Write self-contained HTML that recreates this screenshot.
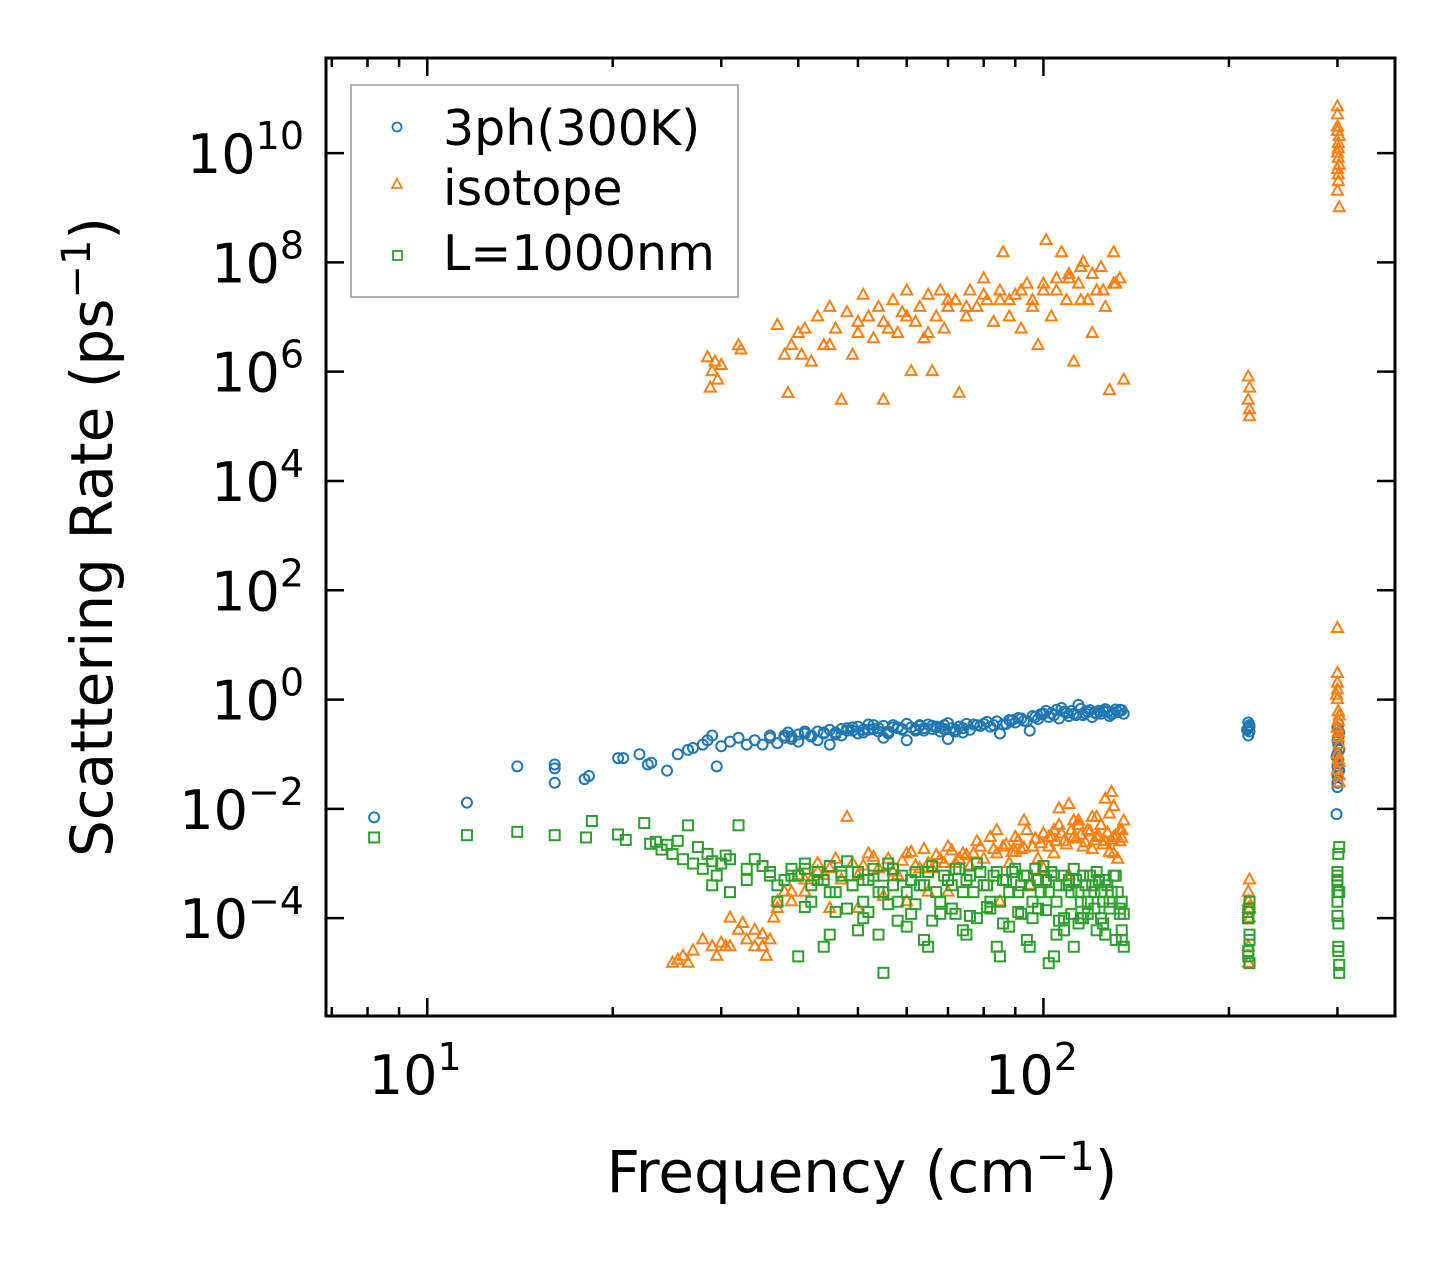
<!DOCTYPE html>
<html><head><meta charset="utf-8"><style>
body{margin:0;background:#fff}
svg text{font-family:"DejaVu Sans","Liberation Sans",sans-serif}
</style></head><body>
<svg id="chart" width="1455" height="1265" xmlns="http://www.w3.org/2000/svg">
<rect width="1455" height="1265" fill="#fff"/>
<g id="marks"></g>
<g id="axes"></g>
<g>
<rect x="351" y="85" width="387" height="212" fill="#fff" fill-opacity="0.8" stroke="#999" stroke-width="1.5"/>
<circle cx="397" cy="127" r="4.5" fill="none" stroke="#1f77b4" stroke-width="1.8"/>
<text x="443" y="145" font-size="49">3ph(300K)</text>
<path d="M397,179 L402,188 L392,188 Z" fill="none" stroke="#ff7f0e" stroke-width="1.8"/>
<text x="443" y="205" font-size="49">isotope</text>
<rect x="393" y="251" width="9" height="9" fill="none" stroke="#2ca02c" stroke-width="1.8"/>
<text x="443" y="270" font-size="49">L=1000nm</text>
</g>
<text x="862" y="1192" font-size="58" text-anchor="middle">Frequency (cm<tspan dy="-22" font-size="40">−1</tspan><tspan dy="22">)</tspan></text>
<text transform="translate(112,537) rotate(-90)" font-size="58" text-anchor="middle">Scattering Rate (ps<tspan dy="-22" font-size="40">−1</tspan><tspan dy="22">)</tspan></text>
</svg>
<script>
// 3ph(300K)
const phFreq=[8.2,11.6,14,16.1,16.1,16.1,18,18.3,20.4,20.8,22.1,22.8,23.1,24.5,25.5,26.5,27,28,28.5,29,29.5,30,31,32,33,34,35,36,37,38,38.5,39,40,41,42,43,44,45,46,47,48,49,50,51,52,53,54,55,56,57,58,59,60,61,62,63,64,65,66,67,68,69,70,71,72,73,74,75,76,78,80,82,84,86,88,90,92,94,96,98,100,102,104,106,108,110,112,114,116,118,120,122,125,128,130,133,135,60,70,85,95,45,55,215,215,215,216,216,300,300,300,300,300,300,301,301,302,302,299,
39,41,43,47,49,51,53,57,59,63,67,69,73,77,79,81,83,87,89,91,93,97,99,101,103,105,107,109,111,113,115,117,119,121,123,124,126,127,129,131,132,134,36,38,40,42,44,46,48,50,52,54,56,58,62,64,66,68,72,74,216,214,300,301,302,299,300,301];
const phRate=[7e-3,1.3e-2,6e-2,6.5e-2,5.5e-2,3e-2,3.5e-2,4e-2,8.5e-2,8.5e-2,1e-1,6.5e-2,7e-2,5e-2,1e-1,1.2e-1,1.3e-1,1.5e-1,1.8e-1,2.2e-1,6e-2,1.4e-1,1.7e-1,2e-1,1.5e-1,1.8e-1,1.5e-1,2.2e-1,1.6e-1,2e-1,2.5e-1,1.9e-1,2.3e-1,2.6e-1,2.2e-1,1.8e-1,2.4e-1,2.8e-1,2.5e-1,2.2e-1,3e-1,2.7e-1,3.2e-1,2.5e-1,3.5e-1,2.9e-1,3e-1,3.3e-1,2.6e-1,3.4e-1,3e-1,2.8e-1,3.6e-1,3.1e-1,2.7e-1,3.3e-1,3e-1,3.5e-1,2.9e-1,3.2e-1,2.6e-1,3.4e-1,3.7e-1,3e-1,2.8e-1,3.2e-1,2.5e-1,3.6e-1,2.8e-1,3.4e-1,3.6e-1,3.2e-1,4e-1,3.5e-1,4.2e-1,3.8e-1,4.5e-1,4e-1,5e-1,4.4e-1,5.5e-1,4.8e-1,5.2e-1,4.5e-1,6e-1,5e-1,5.5e-1,8e-1,5.2e-1,6e-1,4.8e-1,5.5e-1,6.2e-1,5e-1,5.8e-1,6.5e-1,5.5e-1,1.8e-1,1.9e-1,2.4e-1,2.7e-1,1.5e-1,2e-1,2.2e-1,3e-1,3.8e-1,2.6e-1,3.4e-1,3e-1,1.8e-1,1e-1,6e-2,4e-2,2.5e-2,2e-1,8e-2,1.2e-1,5e-2,8e-3,
2.1e-1,2.4e-1,2.6e-1,2.9e-1,3.1e-1,2.8e-1,3.4e-1,3.1e-1,2.9e-1,3.4e-1,3.1e-1,2.9e-1,3.2e-1,3.5e-1,3.3e-1,3.9e-1,3.4e-1,3.6e-1,4.2e-1,4.6e-1,4.1e-1,4.8e-1,5.4e-1,6.2e-1,5.6e-1,6.5e-1,7e-1,5.7e-1,6.2e-1,5.2e-1,6.8e-1,5.6e-1,6.4e-1,5.8e-1,6.2e-1,5.5e-1,6.7e-1,6e-1,5.4e-1,6.6e-1,5.9e-1,6.4e-1,2e-1,2.2e-1,1.7e-1,2.1e-1,2.5e-1,2.3e-1,2.7e-1,2.4e-1,2.8e-1,2.6e-1,2.4e-1,3.1e-1,2.9e-1,2.7e-1,3.3e-1,3.1e-1,2.6e-1,3e-1,3.2e-1,2.8e-1,3e-2,1.5e-1,2.5e-1,9e-2,4.5e-2,3.5e-1];
// isotope (each line: 10 entries)
const isoFreq=[
28.5,28.8,29,29.3,29.6,30,32,32.3,37,38,
38.5,39,40,40.5,41,42,43,44,45,46,
47,48,49,50,51,52,53,54,55,56,
57,58,59,60,61,62,63,64,65,66,
67,68,69,70,72,73,75,76,78,80,
81,83,85,86,88,90,92,94,96,98,
100,101,103,105,107,109,110,112,114,116,
118,120,122,124,126,128,130,131,133,135,
105,110,115,120,125,130,88,92,96,100,
70,75,80,85,60,65,50,55,45,115,
215,215,216,216,216,300,300,300,300,300,
301,301,301,302,302,300,301,302,300,301,
25,25.5,26,26.5,27,28,29,29.5,30,30.5,
31,32,32.5,33,34,35,35.5,36,36.5,37,
38,39,40,41,42,43,44,45,46,47,
48,49,50,52,54,56,58,60,62,64,
66,68,70,72,74,76,78,80,82,84,
86,88,90,92,94,96,98,100,102,104,
106,108,110,112,114,116,118,120,122,124,
126,128,130,132,134,135,50,60,70,85,
100,45,55,65,95,110,130,51,53,57,
59,61,63,67,69,71,73,77,79,83,
87,89,91,93,97,99,103,105,107,109,
111,113,115,117,119,121,123,125,127,129,
131,133,134,112,118,124,129,84,93,102,
106,114,122,126,130,133,39,41,43,37,
35,34,31,90,96,104,120,128,75,65,
215,215,215,216,216,215,215,216,300,300,
300,300,300,300,301,301,302,302,300,301,
302,300,301,302,300,301,299,300,301,302];
const isoRate=[
1.8e6,5e5,1e6,1.5e6,7e5,1.3e6,3e6,2.5e6,7e6,2e6,
4e5,3e6,5e6,2e6,6e6,1.5e6,1e7,3e6,1.5e7,6e6,
3e5,1.2e7,2e6,8e6,2.5e7,1e7,4e6,1.5e7,3e5,6e6,
2e7,5e6,1.2e7,3e7,1e6,8e6,1.5e7,4e6,2.5e7,1e6,
1e7,3e7,6e6,1.5e7,2e7,4e5,1e7,3e7,1.5e7,5e7,
2e7,8e6,3e7,1.5e8,1e7,2.5e7,6e6,4e7,1.5e7,3e6,
3e7,2.5e8,1e7,5e7,1.5e8,2e7,6e7,1.5e6,4e7,1e8,
2e7,5e6,3e7,8e7,1.5e7,4.5e5,1.5e8,4e7,5e7,7e5,
3e7,5e7,2e7,6e7,3e7,4e7,2e7,3e7,2e7,4e7,
2e7,1.5e7,2.5e7,2e7,1e7,5e6,5e6,8e6,3e6,8e7,
8e5,3e5,2e5,5e5,1.5e5,7e10,3e10,1e10,5e9,2e9,
1.5e10,8e9,3e9,1e9,2e10,5e10,1.2e10,6e9,2.5e10,4e9,
1.5e-5,1.7e-5,2e-5,1.5e-5,2.5e-5,4e-5,3e-5,2e-5,3.5e-5,3e-5,
1e-4,6e-5,8e-5,4e-5,3e-5,5e-5,2e-5,4e-5,1e-4,1.5e-4,
3e-4,2e-4,6e-4,3e-4,5e-4,1e-3,6e-4,8e-4,1.2e-3,5e-4,
7e-3,1e-3,6e-4,1.5e-3,8e-4,1.2e-3,6e-4,1.5e-3,9e-4,1.8e-3,
8e-4,1.2e-3,2e-3,1e-3,1.5e-3,9e-4,2.5e-3,1.2e-3,3e-3,1.5e-3,
2e-3,1e-3,3e-3,1.8e-3,4e-3,2e-3,1.2e-3,3.5e-3,2e-3,4e-3,
5e-3,2.5e-3,1.2e-2,3e-3,6e-3,2e-3,4e-3,7e-3,3e-3,5e-3,
2.5e-3,8e-3,3e-3,1.2e-3,4e-3,6e-3,1.5e-4,2e-4,3e-4,2e-4,
8e-4,1.5e-4,2.5e-4,3e-4,4e-4,6e-4,1.5e-3,9e-4,1.3e-3,7e-4,
1.1e-3,1.6e-3,8e-4,1.4e-3,1e-3,1.7e-3,1.2e-3,1.5e-3,2e-3,1.8e-3,
2.2e-3,1.6e-3,2.6e-3,1.9e-3,2.8e-3,2.3e-3,3e-3,2.5e-3,3.5e-3,2.2e-3,
4e-3,2.8e-3,3.3e-3,2.4e-3,3.8e-3,2.6e-3,3.1e-3,2.2e-3,3.6e-3,2.7e-3,
3.2e-3,2.5e-3,2.9e-3,6e-3,4e-3,5e-3,2e-2,4e-3,6e-3,3e-3,
1e-2,5e-3,7e-3,1.5e-2,1.1e-2,4e-3,3e-4,5e-4,7e-4,2e-4,
3e-5,6e-5,3e-5,1.6e-3,2e-3,1.5e-3,1.8e-3,1.6e-3,1.4e-3,1e-3,
1.5e-4,3e-4,2e-4,5e-4,1.5e-4,3e-5,1.5e-5,1e-4,3,1,
3e-1,1e-1,5e-2,2,2e-1,6e-1,4e-2,1.5e-1,20,8e-2,
5e-1,1.5,2.5e-1,7e-2,3e-1,6e-1,1.2,1e-1,4e-1,3e-2];
// L=1000nm boundary
const bFreq=[8.2,11.6,14,16.1,18.1,18.5,20.4,21,22.5,23,23.5,24,24.5,25,25.5,26,26.5,27,27.5,28,28.5,29,29.5,30,30.5,31,32,33,34,35,36,37,38,39,40,41,42,43,44,45,46,47,48,49,50,51,52,53,54,55,56,57,58,59,60,62,64,66,68,70,72,74,76,78,80,82,84,86,88,90,92,94,96,98,100,102,104,106,108,110,112,114,116,118,120,122,124,126,128,130,132,134,135,40,45,50,55,60,65,75,85,95,105,115,125,48,58,68,78,88,98,108,118,128,42,52,62,72,82,92,102,112,122,215,215,215,216,216,216,215,300,300,300,300,300,301,301,302,302,302,301,300,29,31,33,36,
37,39,41,43,45,47,49,51,53,55,57,61,63,65,67,69,71,73,75,77,79,81,83,85,87,89,91,93,95,97,99,101,103,105,107,109,111,113,115,117,119,121,123,125,127,129,131,133,134,135,41,46,51,56,61,66,71,76,81,86,91,96,101,106,111,116,121,126,131,134,44,54,64,74,84,94,104,114,124,133,215,216,215,216,300,301,302,301,300,302];
const bRate=[3e-3,3.3e-3,3.8e-3,3.3e-3,3e-3,6e-3,3.4e-3,2.7e-3,5.5e-3,2.3e-3,2.5e-3,1.8e-3,2.2e-3,1.5e-3,2.6e-3,1.2e-3,5e-3,1e-3,2e-3,8e-4,1.5e-3,1.1e-3,6e-4,1e-3,1.4e-3,1.2e-3,5e-3,8e-4,1.2e-3,9e-4,6e-4,2e-4,5e-4,8e-4,6e-4,1e-3,4e-4,7e-4,5e-4,9e-4,3e-4,6e-4,1.1e-3,4e-4,7e-4,2e-4,5e-4,8e-4,3e-4,6e-4,1e-3,4e-4,2e-4,6e-4,3e-4,7e-4,4e-4,9e-4,2e-4,5e-4,8e-4,3e-4,6e-4,1e-3,4e-4,2e-4,7e-4,5e-4,3e-4,8e-4,4e-4,6e-4,2e-4,5e-4,9e-4,3e-4,6e-4,4e-4,1e-4,5e-4,8e-4,3e-4,6e-4,2e-4,4e-4,7e-4,3e-4,5e-4,2e-4,6e-4,3e-4,4e-5,3e-5,2e-5,5e-5,6e-5,1e-5,7e-5,3e-5,5e-5,2e-5,3e-5,5e-5,1e-4,8e-5,1.5e-4,9e-5,1.2e-4,1e-4,7e-5,1.5e-4,6e-5,1.2e-4,1.5e-4,2e-4,1.3e-4,1.8e-4,1.2e-4,1.5e-4,1.2e-4,1.5e-5,3e-5,6e-5,1e-4,1.3e-4,2e-5,4e-5,1.5e-5,5e-5,1e-4,3e-4,7e-4,2e-4,4e-4,6e-4,8e-5,2.5e-5,1e-5,1.4e-5,2e-3,1.5e-3,1.1e-4,4e-4,
3e-4,5e-4,7e-4,4e-4,6e-4,8e-4,5e-4,3e-4,7e-4,4e-4,5e-4,6e-4,3e-4,8e-4,5e-4,4e-4,7e-4,3e-4,6e-4,4e-4,8e-4,5e-4,3e-4,7e-4,4e-4,6e-4,2e-4,5e-4,7e-4,3e-4,6e-4,4e-4,8e-4,3e-4,5e-4,7e-4,2e-4,6e-4,4e-4,3e-4,5e-4,2e-4,4e-4,6e-4,3e-4,5e-4,2e-4,4e-4,3e-4,6e-4,1.5e-4,2e-4,1.2e-4,1.6e-4,1.3e-4,1e-4,1.8e-4,1.2e-4,9e-5,1.5e-4,1.1e-4,1.6e-4,8e-5,1.3e-4,1e-4,1.4e-4,9e-5,1.2e-4,1e-4,1.5e-4,5e-5,4e-5,6e-5,3e-5,5e-5,4e-5,6e-5,3e-5,4e-5,2e-5,8e-5,1e-4,1.2e-4,2.5e-5,1.5e-4,1e-4,2e-4,5e-4,3e-5,3e-4];

const L=326,R=1395,T=58,B=1016;
const XMIN=Math.log10(6.85),XMAX=Math.log10(372),YMIN=-5.79,YMAX=11.74;
const xs=v=>L+(Math.log10(v)-XMIN)/(XMAX-XMIN)*(R-L);
const ys=v=>B-(Math.log10(v)-YMIN)/(YMAX-YMIN)*(B-T);
const NS='http://www.w3.org/2000/svg';
const marks=document.getElementById('marks');
function mk(tag,attrs){const e=document.createElementNS(NS,tag);for(const k in attrs)e.setAttribute(k,attrs[k]);return e;}
const gP=mk('g',{});
const gI=mk('g',{});
const gB=mk('g',{});
marks.appendChild(gP);marks.appendChild(gI);marks.appendChild(gB);
const nP=Math.min(phFreq.length,phRate.length),nI=Math.min(isoFreq.length,isoRate.length),nB=Math.min(bFreq.length,bRate.length);
for(let i=0;i<nP;i++){const c=mk('circle',{cx:xs(phFreq[i]),cy:ys(phRate[i]),r:5,fill:'none',stroke:'#1f77b4','stroke-width':2});


gP.appendChild(c);}
for(let i=0;i<nI;i++){const x=xs(isoFreq[i]),y=ys(isoRate[i]);const p=mk('path',{d:`M${x},${y-6.5} L${x+5.5},${y+3.5} L${x-5.5},${y+3.5} Z`,fill:'none',stroke:'#ff7f0e','stroke-width':2});


gI.appendChild(p);}
for(let i=0;i<nB;i++){const x=xs(bFreq[i]),y=ys(bRate[i]);const r=mk('rect',{x:x-5,y:y-5,width:10,height:10,fill:'none',stroke:'#2ca02c','stroke-width':2});


gB.appendChild(r);}

// axes
const ax=document.getElementById('axes');
const frame=mk('rect',{x:L,y:T,width:R-L,height:B-T,fill:'none',stroke:'#000','stroke-width':3});


ax.appendChild(frame);
const xMajor=[10,100];const xMajorLabels=['1','2'];
for(let d=1;d<=300;d*=10){for(let m=1;m<10;m++){const v=d*m;if(v<6.85||v>372)continue;const x=xs(v);const len=(m===1)?18:9;
ax.appendChild(mk('line',{x1:x,x2:x,y1:B,y2:B-len,stroke:'#000','stroke-width':2.5}));
ax.appendChild(mk('line',{x1:x,x2:x,y1:T,y2:T+len,stroke:'#000','stroke-width':2.5}));}}
xMajor.forEach((v,i)=>{const t=mk('text',{x:xs(v)-12,y:1094,'font-size':54,'text-anchor':'middle'});t.innerHTML=`10<tspan dy="-24" font-size="38">${xMajorLabels[i]}</tspan>`;


ax.appendChild(t);});
const yExp=[-4,-2,0,2,4,6,8,10];
yExp.forEach(e=>{const y=ys(Math.pow(10,e));
ax.appendChild(mk('line',{x1:L,x2:L+18,y1:y,y2:y,stroke:'#000','stroke-width':2.5}));
ax.appendChild(mk('line',{x1:R,x2:R-18,y1:y,y2:y,stroke:'#000','stroke-width':2.5}));
const t=mk('text',{x:304,y:y+20,'font-size':54,'text-anchor':'end'});t.innerHTML=`10<tspan dy="-24" font-size="38">${e<0?'−'+(-e):e}</tspan>`;


ax.appendChild(t);});
</script>
</body></html>
